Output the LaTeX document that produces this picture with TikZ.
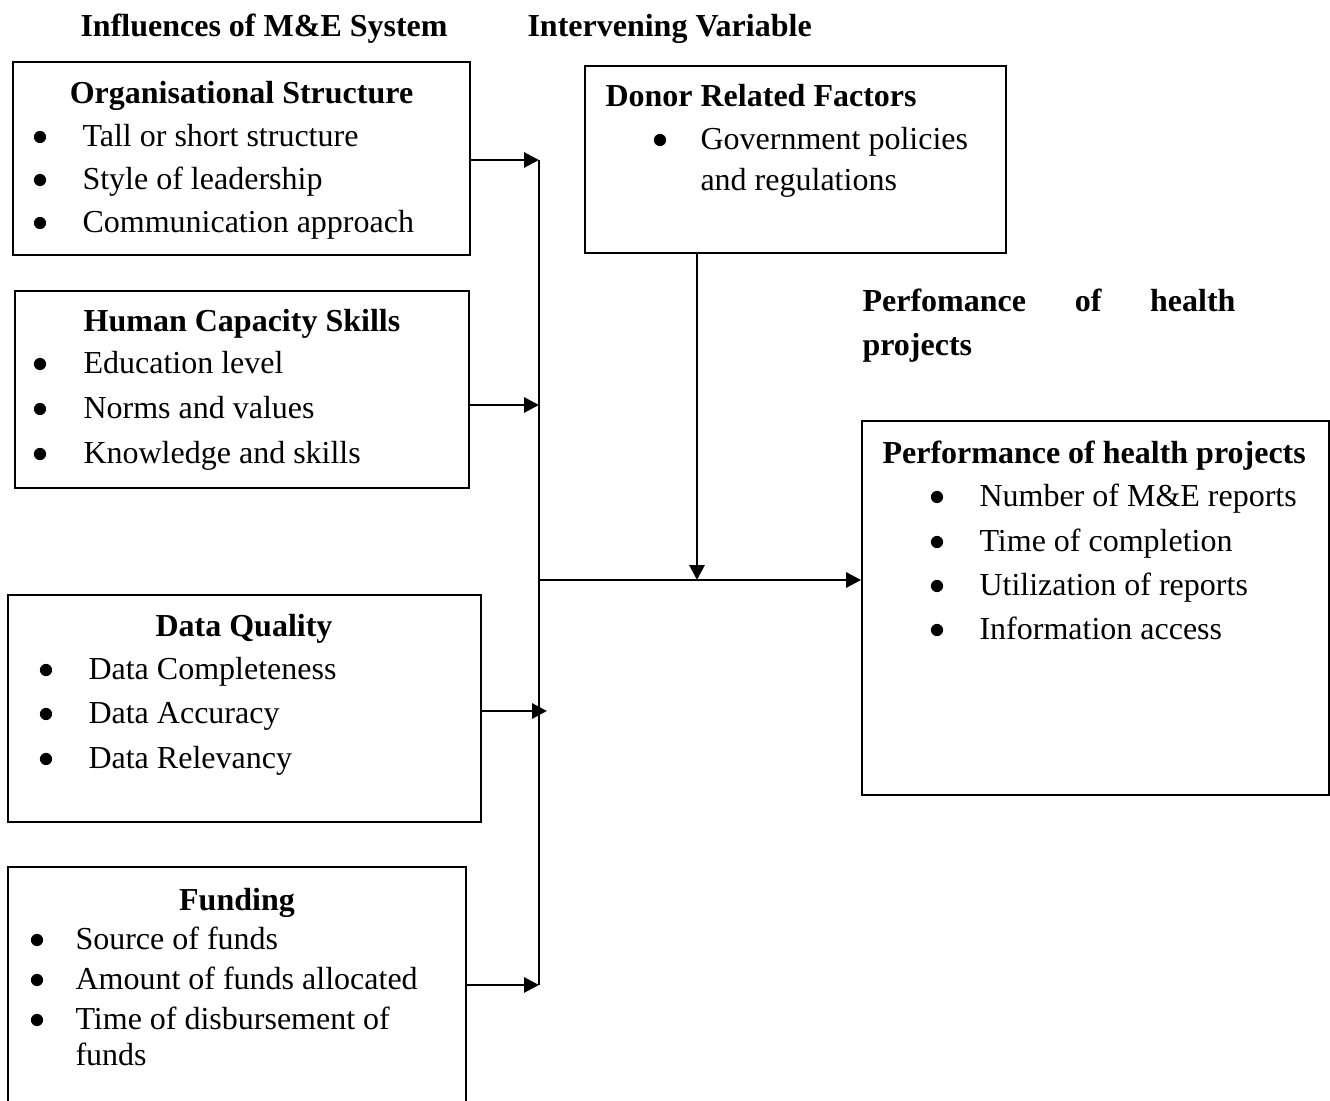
\documentclass[tikz,border=0pt]{standalone}
\usepackage{fontspec}
\setmainfont{Liberation Serif}
\usetikzlibrary{arrows.meta,fit}

\begin{document}
\begin{tikzpicture}[
            x=0.375pt, y=-0.375pt,
            font=\fontsize{12}{14.4}\selectfont,
            box/.style={draw, line width=0.65pt, inner sep=0pt, fit={#1}},
            head/.style={font=\bfseries\fontsize{12}{14.4}\selectfont, inner sep=0pt, anchor=base},
            item/.style={inner sep=0pt, anchor=base west},
            dot/.style={circle, fill, inner sep=0pt, minimum size=4.6pt},
            wire/.style={line width=1.1pt},
            arrow/.style={-{Triangle[length=5.6pt,width=5.6pt]}, line width=1.1pt}
        ]
        \useasboundingbox (0,0) rectangle (1330,1101);

        % Column headings
        \node[head, anchor=base west] (hInf) at (80,37) {Influences of M\&E System};
        \node[head, anchor=base west] (hInt) at (527,37) {Intervening Variable};

        % Boxes
        \node[box={(13,62)(470,255)}] (org) {};
        \node[box={(15,291)(469,488)}] (hum) {};
        \node[box={(8,595)(481,822)}] (dq) {};
        \node[box={(8,867)(466,1110)}] (fund) {};
        \node[box={(585,66)(1006,253)}] (donor) {};
        \node[box={(862,421)(1329,795)}] (perf) {};

        % Organisational Structure
        \node[head] (orgT) at (241.5,104) {Organisational Structure};
        \foreach \txt/\yy [count=\i] in {Tall or short structure/147,
                Style of leadership/190, Communication approach/233} {
            \node[dot] (orgD\i) at (40,\yy-10) {};
            \node[item] (orgI\i) at (82,\yy) {\txt};
        }

        % Human Capacity Skills
        \node[head] (humT) at (242,332) {Human Capacity Skills};
        \foreach \txt/\yy [count=\i] in {Education level/374,
                Norms and values/419, Knowledge and skills/464} {
            \node[dot] (humD\i) at (40,\yy-10) {};
            \node[item] (humI\i) at (83,\yy) {\txt};
        }

        % Data Quality
        \node[head] (dqT) at (244,637) {Data Quality};
        \foreach \txt/\yy [count=\i] in {Data Completeness/680,
                Data Accuracy/724, Data Relevancy/769} {
            \node[dot] (dqD\i) at (46,\yy-10) {};
            \node[item] (dqI\i) at (88,\yy) {\txt};
        }

        % Funding
        \node[head] (fundT) at (237,911) {Funding};
        \foreach \txt/\yy [count=\i] in {Source of funds/950,
                Amount of funds allocated/990, Time of disbursement of/1030} {
            \node[dot] (fundD\i) at (37,\yy-10) {};
            \node[item] (fundI\i) at (75,\yy) {\txt};
        }
        \node[item] (fundI4) at (75,1066) {funds};

        % Donor Related Factors
        \node[head, anchor=base west] (donorT) at (605,107) {Donor Related Factors};
        \node[dot] (donorD1) at (660,140) {};
        \node[item] (donorI1) at (700,150) {Government policies};
        \node[item] (donorI2) at (700,191) {and regulations};

        % Dependent variable label
        \node[item, text width=139.875pt, align=left,
              font=\bfseries\fontsize{12}{16.2}\selectfont] (depLbl) at (862,312)
            {Perfomance \hfill of \hfill health\\projects};

        % Performance of health projects
        \node[head, anchor=base west] (perfT) at (882,464) {Performance of health projects};
        \foreach \txt/\yy [count=\i] in {Number of M\&E reports/507,
                Time of completion/552, Utilization of reports/596, Information access/640} {
            \node[dot] (perfD\i) at (937,\yy-10) {};
            \node[item] (perfI\i) at (979,\yy) {\txt};
        }

        % Connectors
        \coordinate (inOrg) at (539,160);
        \coordinate (inHum) at (539,405);
        \coordinate (inDq) at (547,711);
        \coordinate (inFund) at (539,985);
        \coordinate (hub) at (539,580);
        \coordinate (drop) at (697,580);

        \draw[wire] (inOrg) -- (inFund);
        \draw[arrow] (inOrg -| org.east) -- (inOrg);
        \draw[arrow] (inHum -| hum.east) -- (inHum);
        \draw[arrow] (inDq -| dq.east) -- (inDq);
        \draw[arrow] (inFund -| fund.east) -- (inFund);
        \draw[arrow] (drop |- donor.south) -- (drop);
        \draw[arrow] (hub) -- (hub -| perf.west);

        \end{tikzpicture}
\end{document}
